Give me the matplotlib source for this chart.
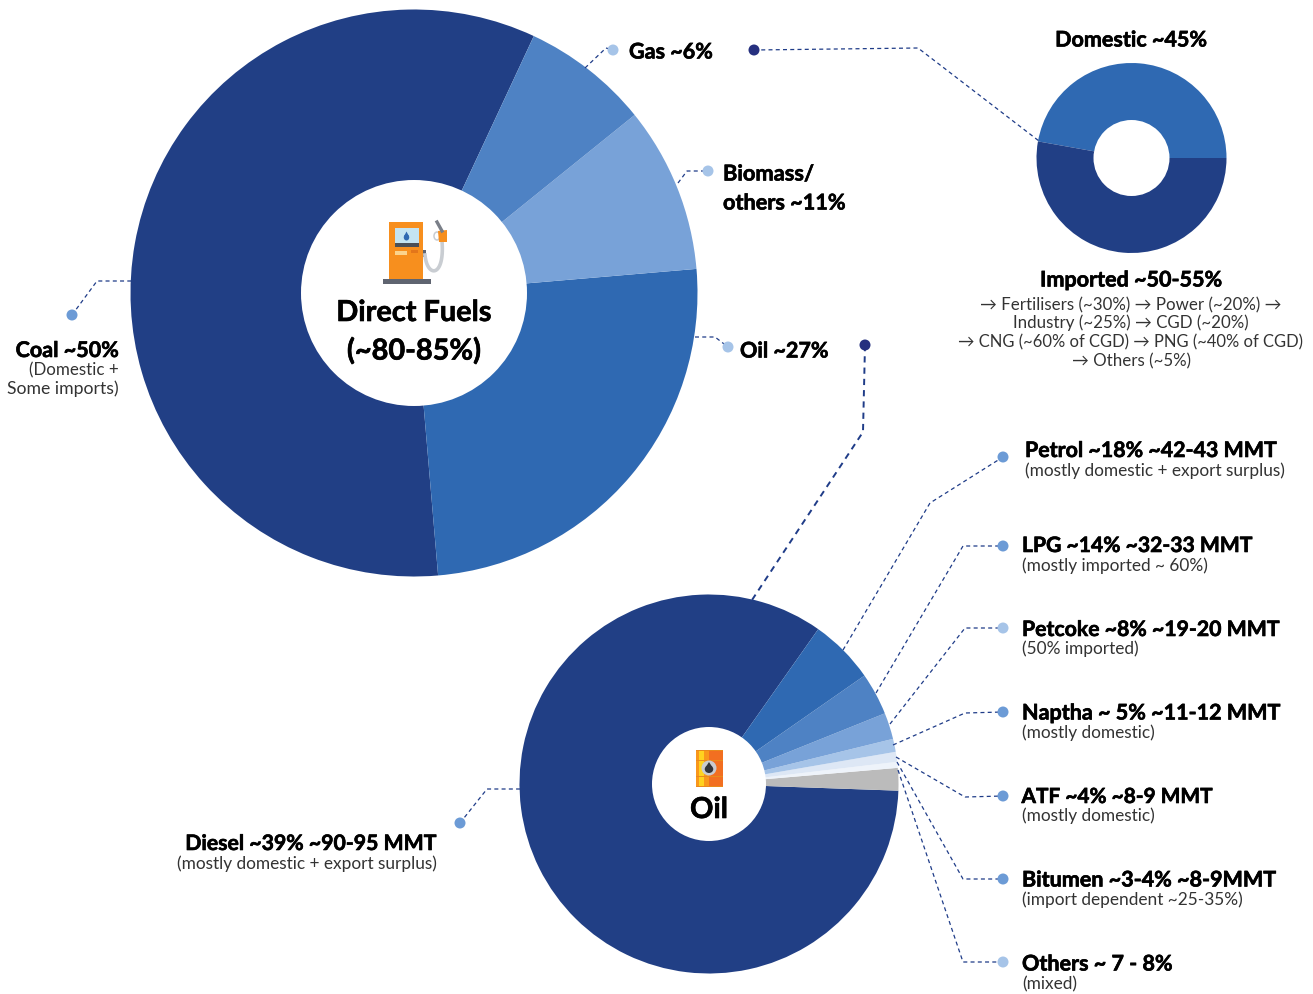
import numpy as np
import matplotlib
matplotlib.use("Agg")
import matplotlib.pyplot as plt
import matplotlib.patheffects as pe
from matplotlib.patches import Circle, Rectangle, Polygon, Ellipse

plt.rcParams['font.family'] = ['Lato', 'DejaVu Sans']

W, H = 1313, 994

# Shares as drawn (share of each circle, in percent)
fuel_names = ["Coal", "Oil", "Biomass/others", "Gas"]
fuel_shares = [58.3, 25.0, 9.45, 7.25]
fuel_colors = ["#213F85", "#2F69B2", "#78A2D8", "#4E82C4"]

gas_names = ["Domestic", "Imported"]
gas_shares = [47.2, 52.8]
gas_colors = ["#2F69B2", "#213F85"]

oil_names = ["Diesel", "Others", "Bitumen", "ATF", "Naptha", "Petcoke", "LPG", "Petrol"]
oil_shares = [84.2, 1.92, 0.51, 0.85, 1.11, 2.25, 3.61, 5.53]
oil_colors = ["#213F85", "#BBBBBB", "#EEF3FA", "#DDE7F5", "#A6C4E8", "#78A2D8", "#4E82C4", "#2F69B2"]

LINE = "#1F3C88"
NAVY = "#26307F"
DOT_MID = "#6C9BD6"
DOT_LIGHT = "#A6C4E8"


def Y(y):
    return H - y


fig = plt.figure(figsize=(W / 100, H / 100), dpi=100)
ax = fig.add_axes([0, 0, 1, 1])


def draw_pie(shares, colors, cx, cy, r, start, hole):
    ax.pie(shares, colors=colors, center=(cx, Y(cy)), radius=r, startangle=start,
           counterclock=True, normalize=True, frame=True,
           wedgeprops=dict(linewidth=0))
    ax.add_patch(Circle((cx, Y(cy)), hole, fc="white", ec="none", zorder=5))


draw_pie(fuel_shares, fuel_colors, 414, 293, 283.5, 65, 113)
draw_pie(gas_shares, gas_colors, 1131.5, 158, 95, 0, 38)
draw_pie(oil_shares, oil_colors, 709, 784, 189.5, 54.8, 57)

ax.set_xlim(0, W)
ax.set_ylim(0, H)
ax.set_aspect("equal")
ax.axis("off")


def leader(pts, dot, color=DOT_MID, lw=0.9, ls=(0, (3.2, 2.6))):
    xs = [p[0] for p in pts]
    ys = [Y(p[1]) for p in pts]
    ax.plot(xs, ys, color=LINE, lw=lw, ls=ls, zorder=3, solid_capstyle="butt")
    ax.add_patch(Circle((dot[0], Y(dot[1])), 5.5, fc=color, ec="none", zorder=6))


leader([(72, 315), (97, 281), (131, 281)], (72, 315))
leader([(585, 68), (606, 48), (613, 50)], (613, 50), DOT_LIGHT)
leader([(678, 183), (687, 171), (708, 171)], (708, 171), DOT_LIGHT)
leader([(695, 337), (715, 337), (728, 347)], (728, 347), DOT_LIGHT)
leader([(754, 50), (918, 48), (1039, 141)], (754, 50), NAVY)
leader([(865, 345), (863, 432), (752, 600)], (865, 345), NAVY, lw=1.4)
leader([(843, 650), (930, 503), (1003, 457)], (1003, 457))
leader([(876, 693), (963, 546), (1003, 546)], (1003, 546))
leader([(890, 724), (965, 628), (1003, 628)], (1003, 628), DOT_LIGHT)
leader([(893, 745), (965, 713), (1003, 712)], (1003, 712))
leader([(896, 757), (965, 797), (1003, 796)], (1003, 796))
leader([(897, 762), (963, 879), (1003, 879)], (1003, 879))
leader([(898, 770), (963, 962), (1003, 962)], (1003, 962), DOT_LIGHT)
leader([(460, 823), (487, 789), (520, 789)], (460, 823))


def txt(x, y, s, size=15.5, bold=True, ha="left", color="black"):
    shift = 2 if bold else 1
    t = ax.text(x, Y(y + shift), s, fontsize=size, fontweight="bold" if bold else "normal",
                ha=ha, va="center", color=color, zorder=8)
    if bold:
        t.set_path_effects([pe.withStroke(linewidth=0.45, foreground=color)])


SUB = "#333333"
S = 12.4

# centre labels
txt(414, 311, "Direct Fuels", 20.8, ha="center")
txt(414, 349, "(~80-85%)", 20.8, ha="center")
txt(709, 808, "Oil", 20.8, ha="center")

# main pie labels
txt(119, 348.5, "Coal ~50%", ha="right")
txt(119, 369, "(Domestic +", 12.2, False, "right", SUB)
txt(119, 388, "Some imports)", 12.7, False, "right", SUB)
txt(629, 50, "Gas ~6%")
txt(723, 172, "Biomass/", 15.7)
txt(723, 201, "others ~11%", 15.6)
txt(740, 349, "Oil ~27%")

# gas donut labels
txt(1131, 38, "Domestic ~45%", ha="center")
txt(1131, 278, "Imported ~50-55%", ha="center")
txt(1131, 304, "→ Fertilisers (~30%) → Power (~20%) →", 12.2, False, "center", SUB)
txt(1131, 322, "Industry (~25%) → CGD (~20%)", 12.2, False, "center", SUB)
txt(1131, 341, "→ CNG (~60% of CGD) → PNG (~40% of CGD)", 11.9, False, "center", SUB)
txt(1131, 360, "→ Others (~5%)", 12.2, False, "center", SUB)

# oil pie labels
txt(437, 842, "Diesel ~39% ~90-95 MMT", 15.3, ha="right")
txt(437, 863, "(mostly domestic + export surplus)", S, False, "right", SUB)
txt(1025, 449, "Petrol ~18% ~42-43 MMT", 15.4)
txt(1025, 470, "(mostly domestic + export surplus)", S, False, "left", SUB)
txt(1022, 544, "LPG ~14% ~32-33 MMT", 15.2)
txt(1022, 565, "(mostly imported ~ 60%)", S, False, "left", SUB)
txt(1022, 628, "Petcoke ~8% ~19-20 MMT", 15.3)
txt(1022, 648, "(50% imported)", S, False, "left", SUB)
txt(1022, 711, "Naptha ~ 5% ~11-12 MMT")
txt(1022, 732, "(mostly domestic)", S, False, "left", SUB)
txt(1021.5, 795, "ATF ~4% ~8-9 MMT", 15.0)
txt(1022, 815, "(mostly domestic)", S, False, "left", SUB)
txt(1022, 878, "Bitumen ~3-4% ~8-9MMT")
txt(1022, 899, "(import dependent ~25-35%)", S, False, "left", SUB)
txt(1022, 962, "Others ~ 7 - 8%")
txt(1022, 983, "(mixed)", S, False, "left", SUB)


def box(x0, y0, x1, y1, color, z=7):
    ax.add_patch(Rectangle((x0, Y(y1)), x1 - x0, y1 - y0, fc=color, ec="none", zorder=z))


def drop(cx, cy, w, h, color, z=9):
    # teardrop for the two icons
    ax.add_patch(Ellipse((cx, Y(cy + h * 0.15)), w, h * 0.7, fc=color, ec="none", zorder=z))
    ax.add_patch(Polygon([(cx - w * 0.42, Y(cy)), (cx, Y(cy - h * 0.5)), (cx + w * 0.42, Y(cy))],
                         fc=color, ec="none", zorder=z))


# fuel pump icon
box(383, 279, 431, 284, "#5F6470")
box(389, 222, 423, 279, "#F78F1E")
box(395, 228, 419, 243, "#C4E4F2")
box(395, 243, 419, 247, "#4A5058")
box(395, 251, 407, 255, "#FBD38D")
box(411, 250, 418, 253, "#E3761A")
box(423, 250, 426, 257, "#5F6470")
t = np.linspace(0, 1, 30)
hx = (1-t)**3*425 + 3*(1-t)**2*t*427 + 3*(1-t)*t**2*445 + t**3*442
hy = (1-t)**3*255 + 3*(1-t)**2*t*278 + 3*(1-t)*t**2*278 + t**3*241
ax.plot(hx, Y(hy), color="#C9CDD2", lw=2.6, zorder=7)
ax.add_patch(Polygon([(438, Y(231)), (447, Y(230)), (447, Y(242)), (439, Y(242))],
                     fc="#F78F1E", ec="none", zorder=8))
ax.add_patch(Ellipse((437, Y(236)), 6, 8, fc="none", ec="#C9CDD2", lw=1.1, zorder=7))
ax.plot([437, 442], [Y(222), Y(231)], color="#7A7F88", lw=2.4, zorder=8)
drop(406.5, 236, 5.5, 9, "#2F69B2")

# oil barrel icon
box(696, 751, 723, 787, "#F26F21")
box(696, 751, 709, 787, "#F9971B")
box(699, 751, 704, 787, "#FFD21F", 7)
for yy in (750, 760, 776, 786):
    box(696, yy, 723, yy + 1.2, "#E98A1C", 8)
ax.add_patch(Circle((709, Y(768)), 7.5, fc="#C9CBD0", ec="none", zorder=8))
drop(709, 767.5, 8.5, 11, "#33343A")

fig.savefig("out.png", dpi=100)
